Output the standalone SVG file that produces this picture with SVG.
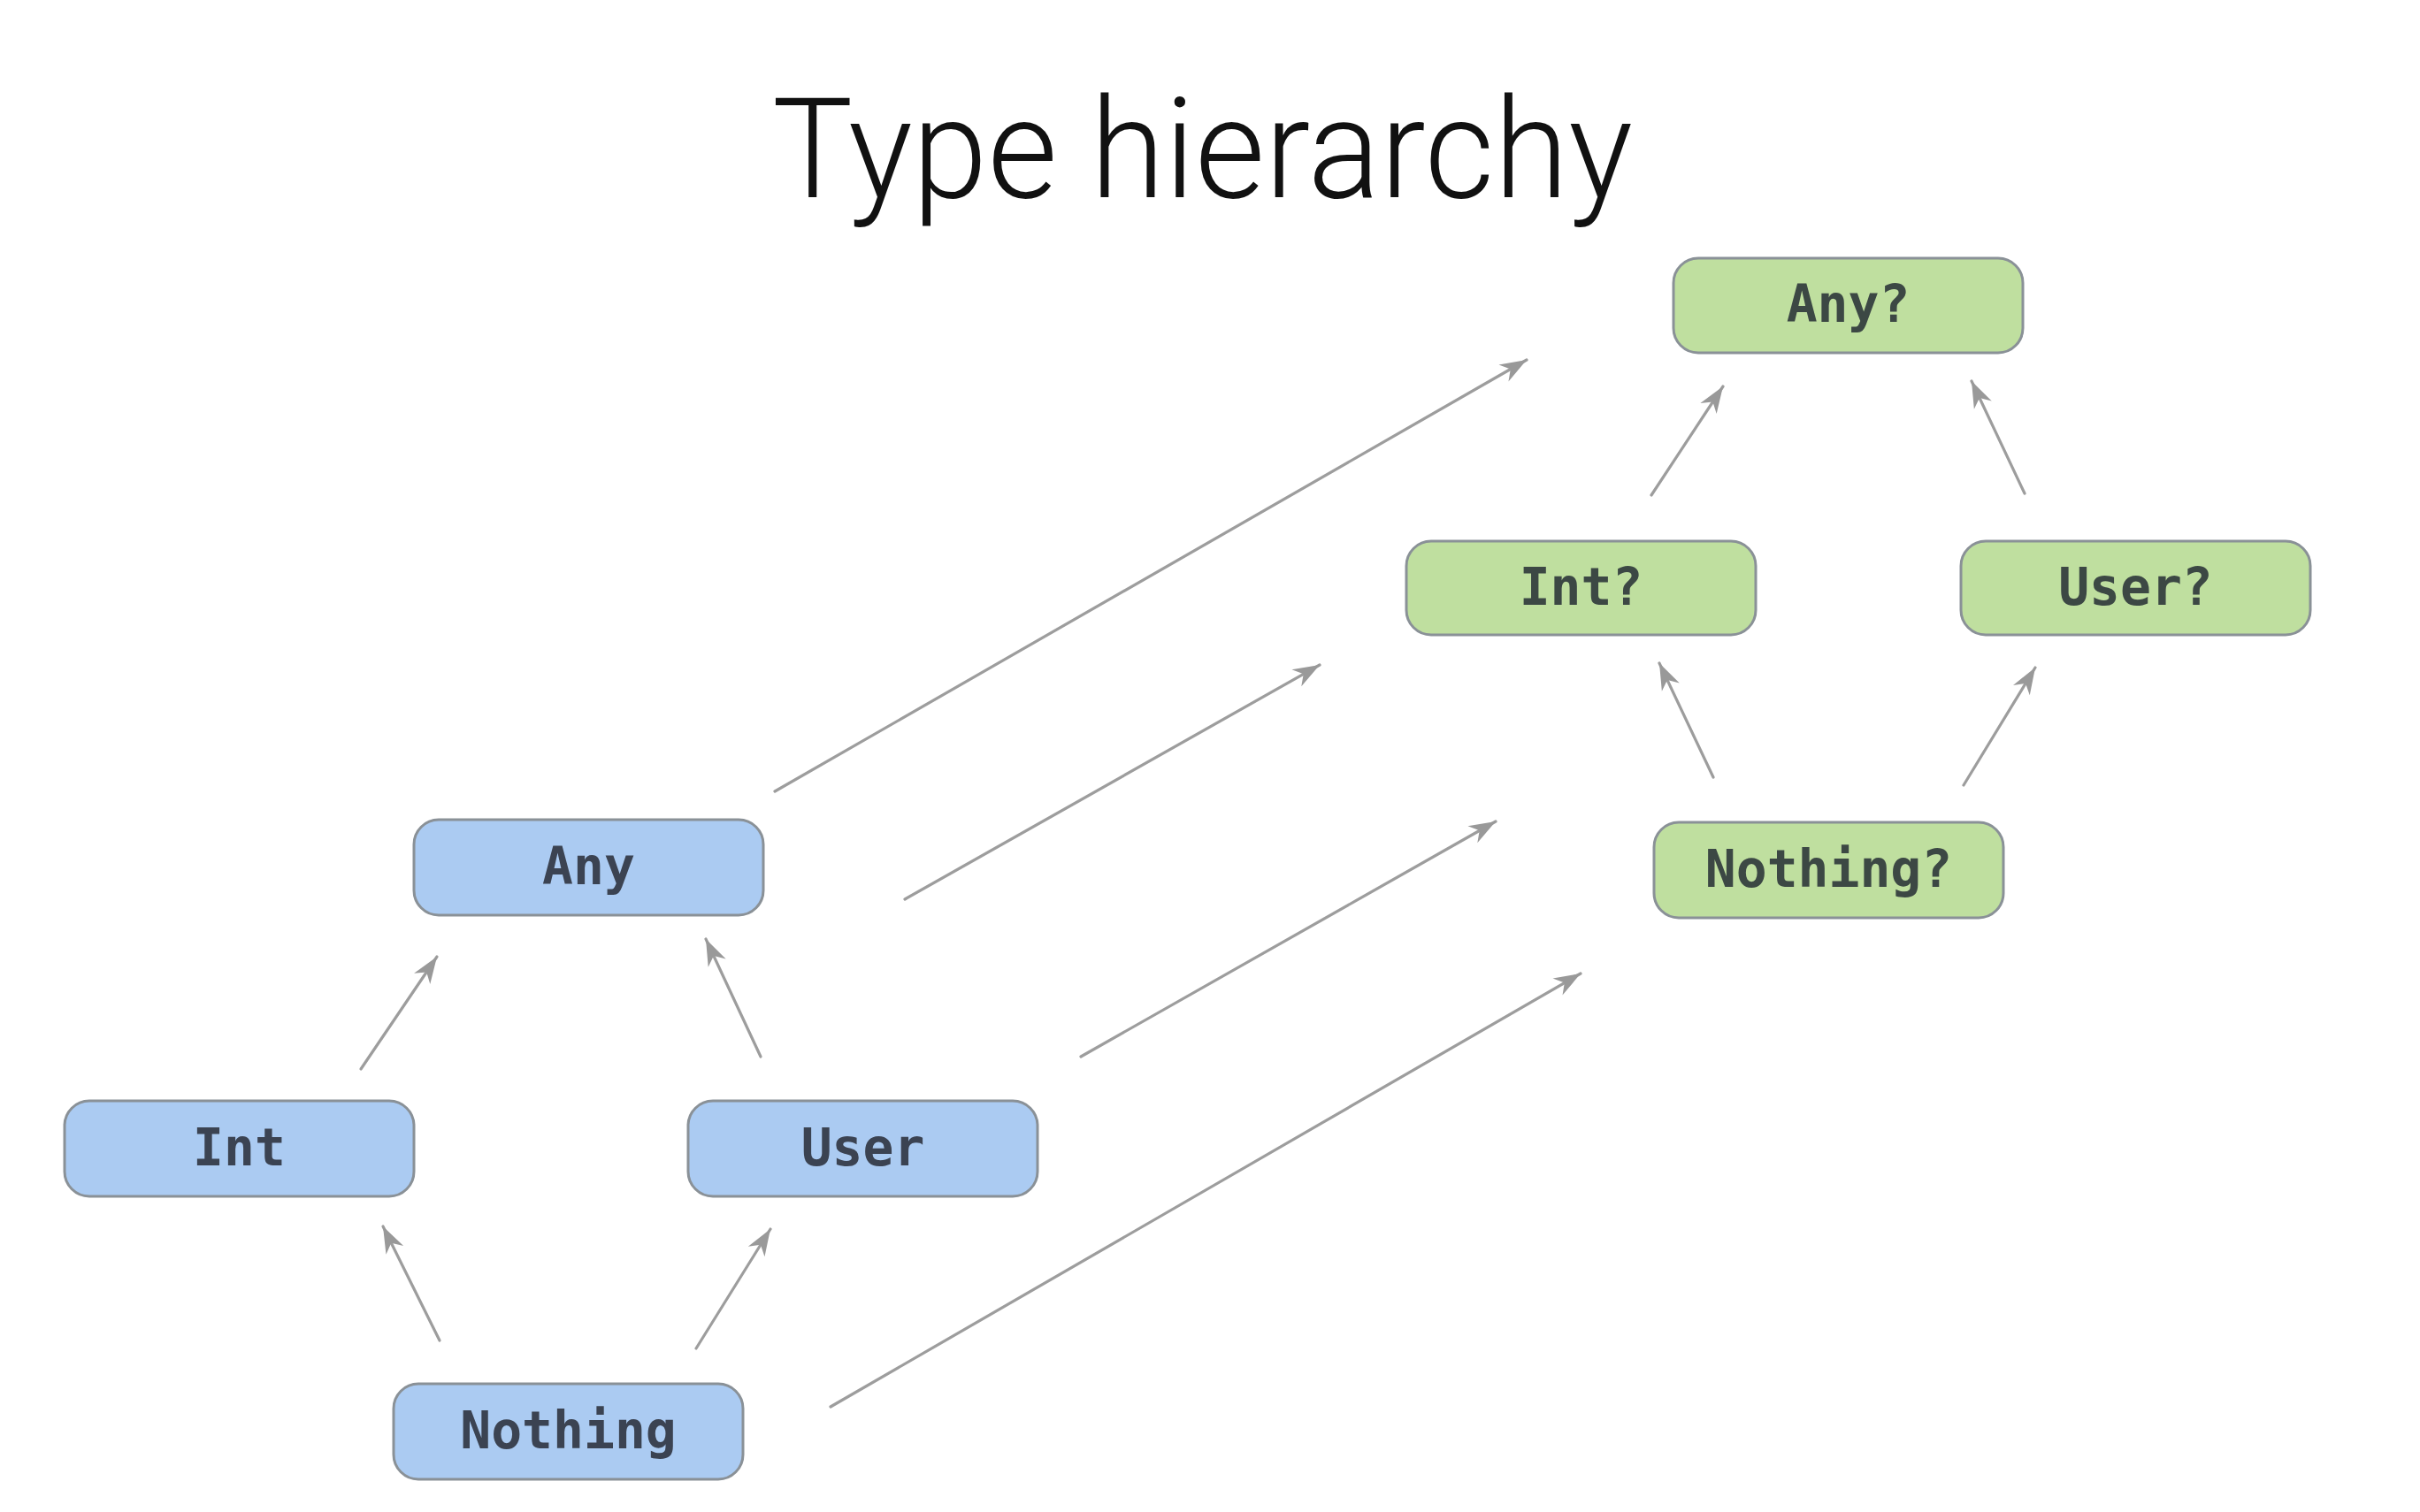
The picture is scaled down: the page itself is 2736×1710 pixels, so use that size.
<svg xmlns="http://www.w3.org/2000/svg" width="2736" height="1710" viewBox="0 0 2736 1710">
  <defs>
    <style>
      .title { font-family: Roboto, "Open Sans", "Liberation Sans", sans-serif; font-weight: 300; font-size: 158px; fill: #111111; }
      .box { stroke: #8a9197; stroke-width: 3; }
      .plain { fill: #abcbf2; }
      .nullable { fill: #bfdf9f; }
      .label { font-family: "DejaVu Sans Mono", "Liberation Mono", monospace; font-weight: bold; font-size: 58px; text-anchor: middle; }
      .plain-label { fill: #3b4352; }
      .nullable-label { fill: #3c4844; }
      .edge { fill: none; stroke: #9d9d9d; stroke-width: 3.2; stroke-linecap: round; marker-end: url(#head); }
    </style>
    <marker id="head" markerUnits="userSpaceOnUse" viewBox="-34 -16 38 32" refX="0" refY="0" markerWidth="38" markerHeight="32" orient="auto">
      <path d="M0,0 L-30,-11 L-21,0 L-30,11 Z" fill="#999999"/>
    </marker>
  </defs>

  <rect width="2736" height="1710" fill="#ffffff"/>

  <text class="title" x="873" y="223" textLength="973" lengthAdjust="spacingAndGlyphs">Type hierarchy</text>

  <g id="connectors">
    <!-- plain hierarchy -->
    <line class="edge" x1="408" y1="1209" x2="494" y2="1082"/>
    <line class="edge" x1="860" y1="1195" x2="798" y2="1062"/>
    <line class="edge" x1="497" y1="1516" x2="433" y2="1387"/>
    <line class="edge" x1="787" y1="1525" x2="871" y2="1390"/>
    <!-- nullable hierarchy -->
    <line class="edge" x1="1867" y1="560" x2="1948" y2="437"/>
    <line class="edge" x1="2289" y1="558" x2="2229" y2="431"/>
    <line class="edge" x1="1937" y1="879" x2="1876" y2="750"/>
    <line class="edge" x1="2220" y1="888" x2="2301" y2="755"/>
    <!-- plain to nullable -->
    <line class="edge" x1="876" y1="895" x2="1726" y2="407"/>
    <line class="edge" x1="1023" y1="1017" x2="1492" y2="752"/>
    <line class="edge" x1="1222" y1="1195" x2="1691" y2="929"/>
    <line class="edge" x1="939" y1="1591" x2="1787" y2="1101"/>
  </g>

  <g id="node-any">
    <rect class="box plain" x="468" y="927" width="395" height="108" rx="28"/>
    <text class="label plain-label" x="665.5" y="1000">Any</text>
  </g>
  <g id="node-int">
    <rect class="box plain" x="73" y="1245" width="395" height="108" rx="28"/>
    <text class="label plain-label" x="270.5" y="1318">Int</text>
  </g>
  <g id="node-user">
    <rect class="box plain" x="778" y="1245" width="395" height="108" rx="28"/>
    <text class="label plain-label" x="975.5" y="1318">User</text>
  </g>
  <g id="node-nothing">
    <rect class="box plain" x="445" y="1565" width="395" height="108" rx="28"/>
    <text class="label plain-label" x="642.5" y="1638">Nothing</text>
  </g>

  <g id="node-any-nullable">
    <rect class="box nullable" x="1892" y="292" width="395" height="107" rx="28"/>
    <text class="label nullable-label" x="2089.5" y="364">Any?</text>
  </g>
  <g id="node-int-nullable">
    <rect class="box nullable" x="1590" y="612" width="395" height="106" rx="28"/>
    <text class="label nullable-label" x="1787.5" y="684">Int?</text>
  </g>
  <g id="node-user-nullable">
    <rect class="box nullable" x="2217" y="612" width="395" height="106" rx="28"/>
    <text class="label nullable-label" x="2414.5" y="684">User?</text>
  </g>
  <g id="node-nothing-nullable">
    <rect class="box nullable" x="1870" y="930" width="395" height="108" rx="28"/>
    <text class="label nullable-label" x="2067.5" y="1003">Nothing?</text>
  </g>
</svg>
